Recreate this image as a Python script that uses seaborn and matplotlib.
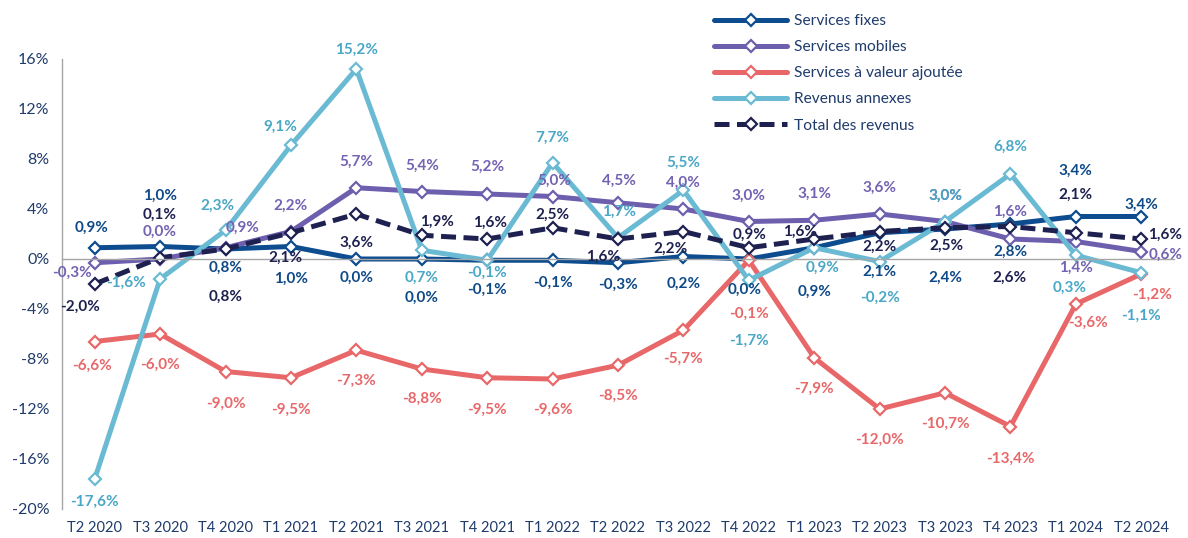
import numpy as np
import pandas as pd
import matplotlib.pyplot as plt
import seaborn as sns

# quarters and growth rates (%)
quarters = ['T2 2020', 'T3 2020', 'T4 2020', 'T1 2021', 'T2 2021', 'T3 2021',
            'T4 2021', 'T1 2022', 'T2 2022', 'T3 2022', 'T4 2022', 'T1 2023',
            'T2 2023', 'T3 2023', 'T4 2023', 'T1 2024', 'T2 2024']
fixes = [0.9, 1.0, 0.8, 1.0, 0.0, 0.0, -0.1, -0.1, -0.3, 0.2, 0.0, 0.9, 2.1, 2.4, 2.8, 3.4, 3.4]
mobiles = [-0.3, 0.0, 0.9, 2.2, 5.7, 5.4, 5.2, 5.0, 4.5, 4.0, 3.0, 3.1, 3.6, 3.0, 1.6, 1.4, 0.6]
vas = [-6.6, -6.0, -9.0, -9.5, -7.3, -8.8, -9.5, -9.6, -8.5, -5.7, -0.1, -7.9, -12.0, -10.7, -13.4, -3.6, -1.2]
annexes = [-17.6, -1.6, 2.3, 9.1, 15.2, 0.7, -0.1, 7.7, 1.7, 5.5, -1.7, 0.9, -0.2, 3.0, 6.8, 0.3, -1.1]
total = [-2.0, 0.1, 0.8, 2.1, 3.6, 1.9, 1.6, 2.5, 1.6, 2.2, 0.9, 1.6, 2.2, 2.5, 2.6, 2.1, 1.6]
names = ['Services fixes', 'Services mobiles', 'Services à valeur ajoutée',
         'Revenus annexes', 'Total des revenus']

# label placement (pixel offsets from each point), copied from the Excel layout
off_fixes = [(-3, 20), (0, 51), (0, -19), (0, -32), (0, -19), (0, -39), (0, -30), (0, -23), (0, -22),
             (0, -27), (-4, -31), (0, -44), (0, -39), (0, -49), (0, -28), (0, 46), (0, 12)]
off_mobiles = [(-23, -10), (0, 27), (17, 20), (0, 26), (0, 26), (0, 26), (0, 27), (2, 16), (1, 22),
               (0, 26), (0, 26), (0, 26), (0, 26), (0, 26), (0, 27), (0, -26), (24, -3)]
off_vas = [(-3, -24), (0, -31), (0, -32), (0, -32), (0, -31), (0, -30), (0, -32), (0, -31), (0, -31),
           (0, -29), (0, -54), (0, -31), (0, -31), (0, -31), (0, -32), (12, -19), (11, -21)]
off_annexes = [(0, -23), (-34, -4), (-8, 24), (-11, 18), (0, 19), (0, -28), (0, -13), (0, 25), (1, 26),
               (0, 27), (0, -61), (8, -20), (0, -36), (0, 26), (0, 27), (-6, -33), (0, -43)]
off_total = [(-15, -23), (0, 43), (0, -48), (-6, -25), (0, -29), (15, 13), (3, 16), (0, 13), (-15, -18),
             (-13, -17), (1, 13), (-14, 7), (0, -15), (1, -18), (-1, -51), (0, 38), (24, 4)]

line_colors = ['#0D4C8E', '#6E5EAE', '#E8686A', '#6BBAD3', '#1E2150']
text_colors = ['#0F4A88', '#7462B2', '#E8686A', '#4AA7C6', '#1E2150']
styles = ['-', '-', '-', '-', (0, (3, 1.5))]
axis_col = '#1F3B6B'

sns.set_style('white')
plt.rcParams['font.family'] = ['Lato', 'DejaVu Sans']

fig = plt.figure(figsize=(11.88, 5.38), dpi=100)
ax = fig.add_axes([62 / 1188, 29 / 538, 1112 / 1188, 450 / 538])
x = np.arange(len(quarters))

all_vals = [fixes, mobiles, vas, annexes, total]
all_offs = [off_fixes, off_mobiles, off_vas, off_annexes, off_total]
for name, vals, lc, tc, ls, offs in zip(names, all_vals, line_colors, text_colors, styles, all_offs):
    df = pd.DataFrame({'x': x, 'v': vals})
    sns.lineplot(data=df, x='x', y='v', ax=ax, color=lc, lw=3.6, ls=ls, marker='D', ms=6.5,
                 mfc='white', mec=lc, mew=1.6, label=name, clip_on=False)
    for xi, v, (dx, dy) in zip(x, vals, offs):
        ax.annotate(f"{v:.1f}%".replace('.', ','), (xi, v), xytext=(dx, dy),
                    textcoords='offset pixels', ha='center', va='center', fontsize=11,
                    fontweight='bold', color=tc, annotation_clip=False)

ax.set_xlim(-0.5, len(quarters) - 0.5)
ax.set_ylim(-20, 16)
ax.set_yticks(range(-20, 17, 4))
ax.set_yticklabels([f"{t}%" for t in range(-20, 17, 4)])
ax.set_xticks(x)
ax.set_xticklabels(quarters)
ax.set_xticks(np.arange(-0.5, len(quarters), 1), minor=True)
ax.set_xlabel('')
ax.set_ylabel('')

sns.despine(ax=ax)
ax.spines['bottom'].set_position(('data', 0))
for s in ['left', 'bottom']:
    ax.spines[s].set_color('#A6A6A6')
    ax.spines[s].set_linewidth(1)
ax.tick_params(axis='y', length=5, color='#A6A6A6', labelsize=11.5, labelcolor=axis_col, pad=4)
ax.tick_params(axis='x', which='major', length=0, labelsize=10.5, labelcolor=axis_col, pad=189)
ax.tick_params(axis='x', which='minor', length=5, color='#A6A6A6', direction='out')

h, l = ax.get_legend_handles_labels()
ax.legend(h, l, loc='upper left', bbox_to_anchor=(714 / 1188, 1 - 14 / 538),
          bbox_transform=fig.transFigure, frameon=False, fontsize=11.2, labelcolor=axis_col,
          handlelength=4.7, handletextpad=0.45, labelspacing=0.78, borderpad=0, borderaxespad=0)

fig.savefig('out.png', dpi=100)
